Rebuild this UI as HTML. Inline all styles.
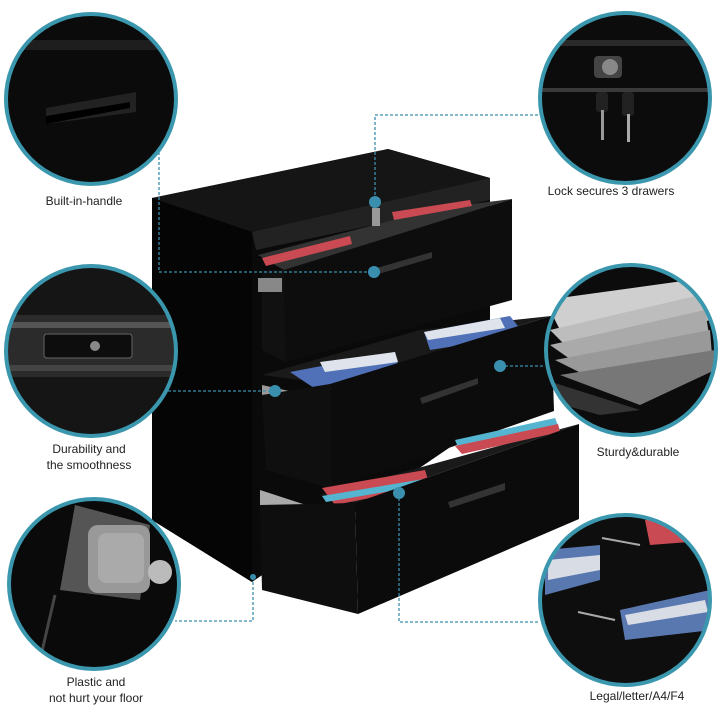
<!DOCTYPE html>
<html><head><style>
html,body{margin:0;padding:0;background:#fff;}
svg{display:block}
text{font-family:"Liberation Sans","DejaVu Sans",sans-serif;font-size:12px;fill:#222;text-anchor:middle}
</style></head><body>
<svg width="720" height="720" viewBox="0 0 720 720" xmlns="http://www.w3.org/2000/svg">
<defs>
<clipPath id="c1"><circle cx="91" cy="99" r="85"/></clipPath>
<clipPath id="c2"><circle cx="625" cy="98" r="85"/></clipPath>
<clipPath id="c3"><circle cx="91" cy="351" r="85"/></clipPath>
<clipPath id="c4"><circle cx="631" cy="350" r="85"/></clipPath>
<clipPath id="c5"><circle cx="94" cy="584" r="85"/></clipPath>
<clipPath id="c6"><circle cx="625" cy="600" r="85"/></clipPath>
</defs>

<!-- cabinet -->
<polygon points="152,198 388,149 490,178 490,420 252,582 152,520" fill="#0a0a0a"/>
<polygon points="152,198 388,149 490,178 252,232" fill="#151515"/>
<polygon points="252,232 490,178 490,200 256,250" fill="#222"/>
<polygon points="152,198 252,232 252,582 152,520" fill="#050505"/>
<!-- drawer 1 -->
<polygon points="258,255 440,208 512,199 284,270" fill="#333"/>
<polygon points="262,258 350,236 352,244 266,266" fill="#c94a52"/>
<polygon points="392,212 470,200 472,206 394,220" fill="#c94a52"/>
<polygon points="262,270 284,270 286,362 262,350" fill="#111"/>
<polygon points="284,270 512,199 512,300 286,362" fill="#0d0d0d"/>
<polygon points="370,270 432,252 432,258 372,276" fill="#333"/>
<rect x="258" y="278" width="24" height="14" fill="#888"/>
<!-- drawer 2 -->
<polygon points="262,375 420,330 551,316 330,384" fill="#1a1a1a"/>
<polygon points="290,372 395,352 400,375 320,392" fill="#5070b8"/>
<polygon points="320,362 395,352 398,362 325,372" fill="#dfe4ec"/>
<polygon points="424,332 510,316 525,335 430,350" fill="#5070b8"/>
<polygon points="424,332 500,318 505,328 428,340" fill="#dfe4ec"/>
<polygon points="262,385 330,400 330,412 262,395" fill="#999"/>
<polygon points="262,395 330,384 332,489 266,470" fill="#0f0f0f"/>
<polygon points="330,384 551,316 554,411 332,489" fill="#0c0c0c"/>
<polygon points="420,398 478,378 478,384 422,404" fill="#333"/>
<!-- drawer 3 -->
<polygon points="320,495 440,462 579,424 355,503" fill="#1a1a1a"/>
<polygon points="322,488 425,470 430,486 335,505" fill="#c94a52"/>
<polygon points="322,496 430,478 432,484 326,502" fill="#55b5d0"/>
<polygon points="455,440 555,418 560,430 460,452" fill="#55b5d0"/>
<polygon points="455,446 558,424 560,432 462,454" fill="#c94a52"/>
<polygon points="260,490 352,520 352,540 260,505" fill="#aaa"/>
<polygon points="260,505 355,503 358,614 262,590" fill="#0e0e0e"/>
<polygon points="355,503 579,424 579,519 358,614" fill="#0b0b0b"/>
<polygon points="448,502 505,483 505,490 450,508" fill="#333"/>
<rect x="372" y="208" width="8" height="18" fill="#999"/>

<!-- circles -->
<g clip-path="url(#c1)">
<rect x="0" y="0" width="180" height="190" fill="#0b0b0b"/>
<rect x="0" y="40" width="180" height="10" fill="#1e1e1e"/>
<polygon points="46,108 136,92 136,112 46,124" fill="#222"/>
<polygon points="46,116 130,102 130,108 46,124" fill="#000"/>
</g>
<circle cx="91" cy="99" r="85" fill="none" stroke="#3b97ad" stroke-width="4"/>

<g clip-path="url(#c2)">
<rect x="535" y="10" width="180" height="180" fill="#0c0c0c"/>
<rect x="535" y="40" width="180" height="6" fill="#2a2a2a"/>
<rect x="535" y="88" width="180" height="4" fill="#3a3a3a"/>
<rect x="594" y="56" width="28" height="22" rx="4" fill="#444"/>
<circle cx="610" cy="67" r="8" fill="#888"/>
<rect x="596" y="92" width="12" height="20" rx="3" fill="#222"/>
<rect x="601" y="110" width="3" height="30" fill="#999"/>
<rect x="622" y="92" width="12" height="24" rx="3" fill="#222"/>
<rect x="627" y="114" width="3" height="28" fill="#aaa"/>
</g>
<circle cx="625" cy="98" r="85" fill="none" stroke="#3b97ad" stroke-width="4"/>

<g clip-path="url(#c3)">
<rect x="0" y="260" width="180" height="180" fill="#151515"/>
<rect x="0" y="315" width="180" height="62" fill="#2b2b2b"/>
<rect x="0" y="322" width="180" height="6" fill="#555"/>
<rect x="0" y="365" width="180" height="6" fill="#444"/>
<rect x="44" y="334" width="88" height="24" rx="3" fill="#0d0d0d" stroke="#666"/>
<circle cx="95" cy="346" r="5" fill="#888"/>
</g>
<circle cx="91" cy="351" r="85" fill="none" stroke="#3b97ad" stroke-width="4"/>

<g clip-path="url(#c4)">
<rect x="540" y="260" width="180" height="180" fill="#0c0c0c"/>
<polygon points="545,300 690,280 705,300 560,330" fill="#cfcfcf"/>
<polygon points="550,330 700,295 710,320 580,360" fill="#bdbdbd"/>
<polygon points="550,345 705,310 710,340 600,380" fill="#aaa"/>
<polygon points="555,360 710,330 712,355 625,395" fill="#999"/>
<polygon points="560,375 715,350 715,370 640,405" fill="#777"/>
<polygon points="545,380 640,410 600,415 545,400" fill="#333"/>
</g>
<circle cx="631" cy="350" r="85" fill="none" stroke="#3b97ad" stroke-width="4"/>

<g clip-path="url(#c5)">
<rect x="0" y="495" width="185" height="180" fill="#0a0a0a"/>
<polygon points="75,505 150,525 140,600 60,590" fill="#555"/>
<rect x="88" y="525" width="62" height="68" rx="10" fill="#999"/>
<rect x="98" y="533" width="46" height="50" rx="8" fill="#aaa"/>
<circle cx="160" cy="572" r="12" fill="#bbb"/>
<line x1="55" y1="595" x2="40" y2="660" stroke="#444" stroke-width="3"/>
</g>
<circle cx="94" cy="584" r="85" fill="none" stroke="#3b97ad" stroke-width="4"/>

<g clip-path="url(#c6)">
<rect x="535" y="510" width="180" height="180" fill="#0e0e0e"/>
<polygon points="545,550 600,545 600,580 545,595" fill="#5a78b0"/>
<polygon points="548,560 600,555 600,570 548,580" fill="#d8dce4"/>
<polygon points="620,610 710,590 712,630 625,640" fill="#5a78b0"/>
<polygon points="625,615 705,600 708,612 628,625" fill="#d8dce4"/>
<polygon points="645,520 715,515 715,540 650,545" fill="#c94a52"/>
<line x1="602" y1="538" x2="640" y2="545" stroke="#aaa" stroke-width="2"/>
<line x1="578" y1="612" x2="615" y2="620" stroke="#aaa" stroke-width="2"/>
</g>
<circle cx="625" cy="600" r="85" fill="none" stroke="#3b97ad" stroke-width="4"/>

<!-- connectors -->
<g stroke="#3b8fae" stroke-width="1.3" stroke-dasharray="3,2" fill="none">
<polyline points="159,152 159,272 374,272"/>
<polyline points="538,115 375,115 375,202"/>
<polyline points="168,391 275,391"/>
<polyline points="500,366 545,366"/>
<polyline points="253,577 253,621 175,621"/>
<polyline points="399,493 399,622 540,622"/>
</g>
<g fill="#3b8fae">
<circle cx="374" cy="272" r="6"/>
<circle cx="375" cy="202" r="6"/>
<circle cx="275" cy="391" r="6"/>
<circle cx="500" cy="366" r="6"/>
<circle cx="253" cy="577" r="3"/>
<circle cx="399" cy="493" r="6"/>
</g>

<text x="84" y="205">Built-in-handle</text>
<text x="611" y="195">Lock secures 3 drawers</text>
<text x="89" y="453">Durability and</text>
<text x="89" y="469">the smoothness</text>
<text x="638" y="456">Sturdy&amp;durable</text>
<text x="96" y="686">Plastic and</text>
<text x="96" y="702">not hurt your floor</text>
<text x="637" y="700">Legal/letter/A4/F4</text>
</svg>
</body></html>
